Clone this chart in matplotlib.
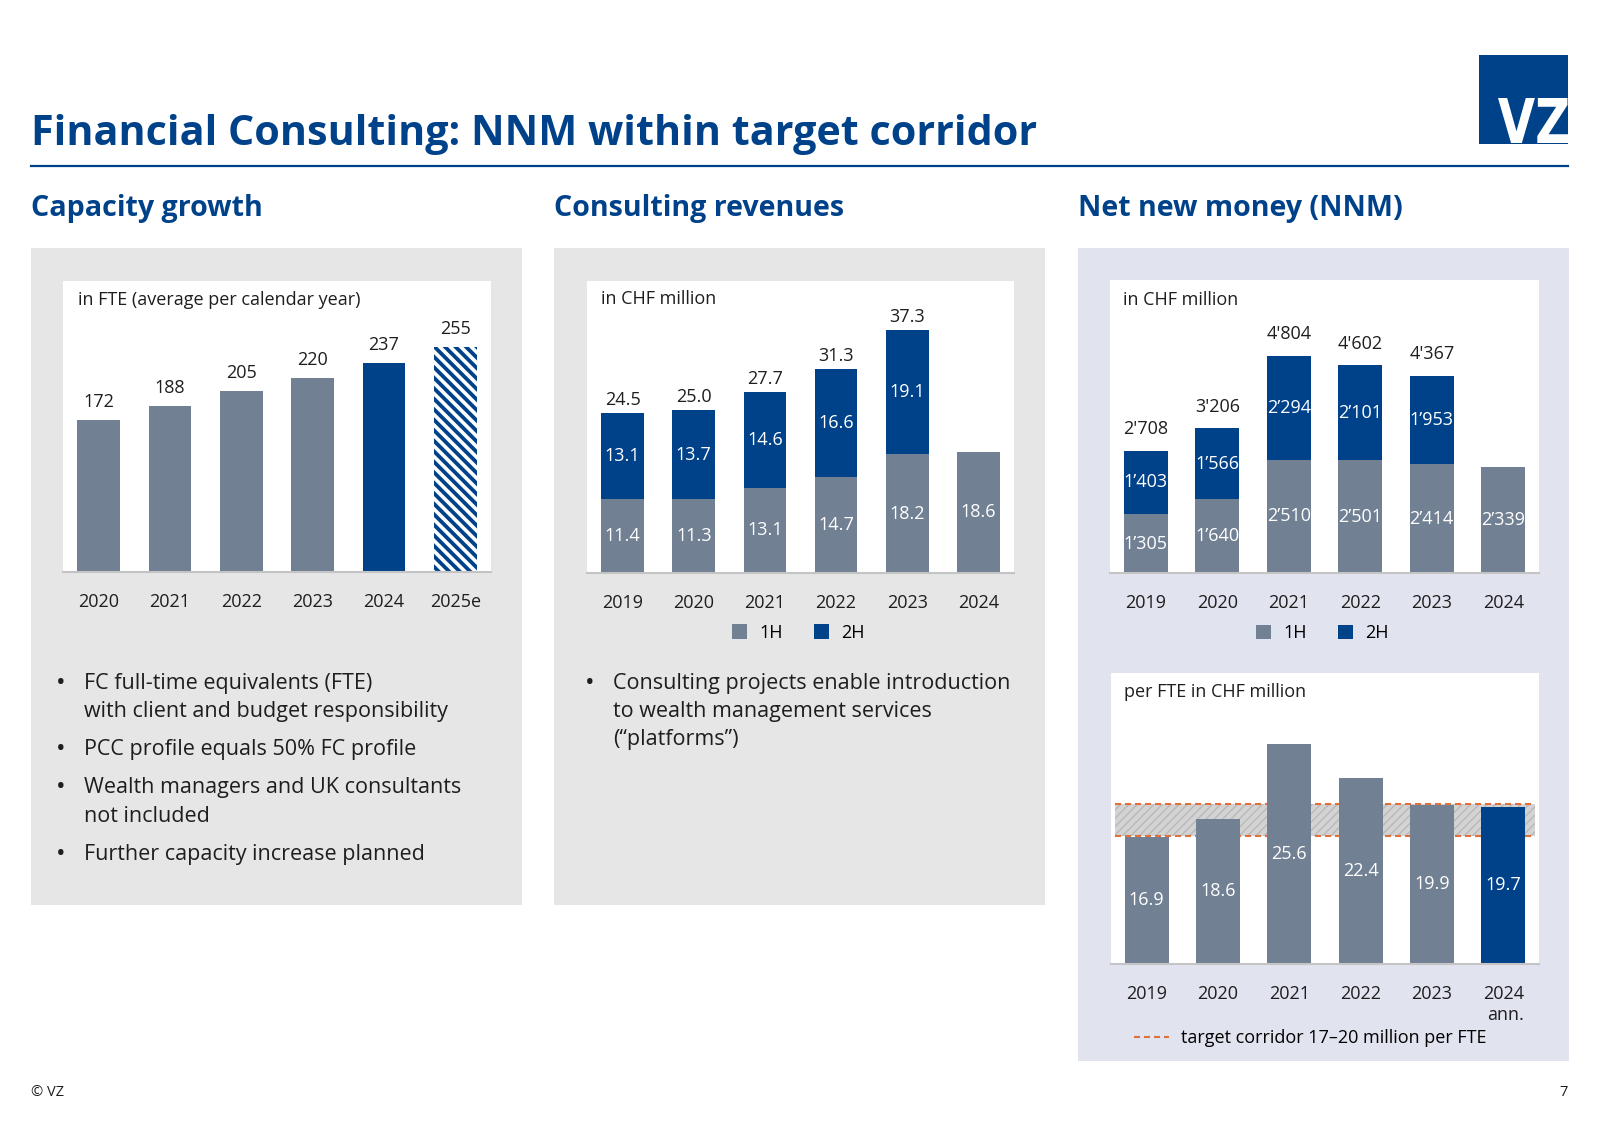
import numpy as np
import matplotlib
matplotlib.use("Agg")
import matplotlib.pyplot as plt
import matplotlib.transforms as mtransforms
from matplotlib.patches import Rectangle, PathPatch
from matplotlib.lines import Line2D
from matplotlib.textpath import TextPath
from matplotlib.font_manager import FontProperties

plt.rcParams['font.family'] = ['Open Sans', 'DejaVu Sans']

# ---- data ----
fte_years = ['2020', '2021', '2022', '2023', '2024', '2025e']
fte = [172, 188, 205, 220, 237, 255]

rev_years = ['2019', '2020', '2021', '2022', '2023', '2024']
rev_1h = [11.4, 11.3, 13.1, 14.7, 18.2, 18.6]
rev_2h = [13.1, 13.7, 14.6, 16.6, 19.1]
rev_tot = [24.5, 25.0, 27.7, 31.3, 37.3]

nnm_years = ['2019', '2020', '2021', '2022', '2023', '2024']
nnm_1h = [1305, 1640, 2510, 2501, 2414, 2339]
nnm_2h = [1403, 1566, 2294, 2101, 1953]
nnm_tot = [2708, 3206, 4804, 4602, 4367]

pf_years = ['2019', '2020', '2021', '2022', '2023', '2024\nann.']
nnm_per_fte = [16.9, 18.6, 25.6, 22.4, 19.9, 19.7]
corridor = (17, 20)

bullets_fte = [["FC full-time equivalents (FTE)", "with client and budget responsibility"],
               ["PCC profile equals 50% FC profile"],
               ["Wealth managers and UK consultants", "not included"],
               ["Further capacity increase planned"]]
bullets_rev = [["Consulting projects enable introduction", "to wealth management services",
                "(\u201cplatforms\u201d)"]]

# ---- style ----
W, H = 1600, 1131
NAVY = '#00428a'
GREY = '#718093'
PANEL = '#e6e6e6'
LILAC = '#e1e3ef'
TXT = '#1e1e1e'
AXLINE = '#c4c4c4'
ORANGE = '#e0703c'

fig = plt.figure(figsize=(W / 100, H / 100), dpi=100)
r = fig.canvas.get_renderer()

def fit(t, width):
    w = t.get_window_extent(r).width
    t.set_fontsize(t.get_fontsize() * width / w)
    return t.get_fontsize()

def ftext(x, y, s, **kw):
    # figure-level text in pixel coords (y down), drawn above the axes
    return fig.text(x / W, 1 - y / H, s, **kw)

# page layer in pixel coords (y down)
page = fig.add_axes([0, 0, 1, 1])
page.set_xlim(0, W)
page.set_ylim(H, 0)
page.axis('off')

title = page.text(31, 145, 'Financial Consulting: NNM within target corridor', fontsize=30,
                  fontweight='bold', color=NAVY, va='baseline')
fit(title, 1005)
page.plot([31, 1568], [166, 166], color=NAVY, lw=1.6)

# logo
page.add_patch(Rectangle((1479, 55), 89, 89, color=NAVY, lw=0))
tp = TextPath((0, 0), 'VZ', size=10, prop=FontProperties(family='DejaVu Sans', weight='bold'))
ext = tp.get_extents()
tr = (mtransforms.Affine2D().translate(-ext.x0, -ext.y0).scale(70 / ext.width, -45 / ext.height)
      .translate(1498, 143) + page.transData)
page.add_patch(PathPatch(tp, color='white', lw=0, transform=tr))

# section headers
h1 = page.text(31, 216, 'Capacity growth', fontsize=20, fontweight='bold', color=NAVY, va='baseline')
hs = fit(h1, 232)
page.text(554, 216, 'Consulting revenues', fontsize=hs, fontweight='bold', color=NAVY, va='baseline')
page.text(1078, 216, 'Net new money (NNM)', fontsize=hs, fontweight='bold', color=NAVY, va='baseline')

# background panels
page.add_patch(Rectangle((31, 248), 491, 657, color=PANEL, lw=0))
page.add_patch(Rectangle((554, 248), 491, 657, color=PANEL, lw=0))
page.add_patch(Rectangle((1078, 248), 491, 813, color=LILAC, lw=0))

# chart captions
c1 = ftext(78, 300, 'in FTE (average per calendar year)', fontsize=13, color=TXT, va='center')
cs = fit(c1, 281)
ftext(601, 299, 'in CHF million', fontsize=cs, color=TXT, va='center')
ftext(1123, 300, 'in CHF million', fontsize=cs, color=TXT, va='center')
ftext(1124, 692, 'per FTE in CHF million', fontsize=cs, color=TXT, va='center')

# bullets
tb = page.text(0, 0, bullets_rev[0][0], fontsize=15)
bs = fit(tb, 397)
tb.remove()

def bullet_list(x_dot, x_txt, y0, paras):
    y = y0
    for para in paras:
        page.text(x_dot, y, '\u2022', fontsize=bs * 1.2, color=TXT, ha='center', va='center')
        for ln in para:
            page.text(x_txt, y, ln, fontsize=bs, color=TXT, va='center')
            y += 28
        y += 10.5

bullet_list(61, 84, 683, bullets_fte)
bullet_list(590, 613, 683, bullets_rev)

# footer
page.text(31, 1093, '\u00a9 VZ', fontsize=10.5, color=TXT, va='center')
page.text(1568, 1093, '7', fontsize=10.5, color=TXT, va='center', ha='right')


def chart_ax(x0, y0, x1, y1):
    ax = fig.add_axes([x0 / W, 1 - y1 / H, (x1 - x0) / W, (y1 - y0) / H])
    ax.set_facecolor('white')
    for s in ['top', 'right', 'left']:
        ax.spines[s].set_visible(False)
    ax.spines['bottom'].set_color(AXLINE)
    ax.spines['bottom'].set_linewidth(1.5)
    ax.set_yticks([])
    ax.tick_params(axis='x', length=0, labelsize=cs, pad=15, colors=TXT)
    ax.set_xlim(-0.5, 5.5)
    return ax


def fmt(v, q='\u2019'):
    return f'{v:,}'.replace(',', q)


x = np.arange(6)

# ---- capacity growth ----
ax1 = chart_ax(63, 281, 491, 572)
bars = ax1.bar(x, fte, width=0.6, color=[GREY] * 4 + [NAVY, NAVY])
ax1.set_ylim(0, 330)
ax1.set_xticks(x, fte_years)
for xi, v in zip(x, fte):
    ax1.annotate(str(v), (xi, v), xytext=(0, 9.5), textcoords='offset points',
                 ha='center', va='baseline', fontsize=cs, color=TXT)
# white stripes on the estimate bar
bb = bars[5].get_window_extent()
period = 10.5
for off in np.arange(-bb.height, bb.width + period, period):
    ln = Line2D([bb.x0 + off, bb.x0 + off + bb.height], [bb.y1, bb.y0], color='white', lw=2.6,
                transform=mtransforms.IdentityTransform())
    ax1.add_line(ln)
    ln.set_clip_path(bars[5])

# ---- consulting revenues ----
ax2 = chart_ax(587, 281, 1014, 573)
b1 = ax2.bar(x, rev_1h, width=0.6, color=GREY, label='1H')
b2 = ax2.bar(x[:5], rev_2h, width=0.6, bottom=rev_1h[:5], color=NAVY, label='2H')
ax2.set_ylim(0, 44.8)
ax2.set_xticks(x, rev_years)
ax2.bar_label(b1, labels=[f'{v:.1f}' for v in rev_1h], label_type='center', color='white', fontsize=cs)
ax2.bar_label(b2, labels=[f'{v:.1f}' for v in rev_2h], label_type='center', color='white', fontsize=cs)
for xi, v in zip(x, rev_tot):
    ax2.annotate(f'{v:.1f}', (xi, v), xytext=(0, 6), textcoords='offset points',
                 ha='center', va='baseline', fontsize=cs, color=TXT)
ax2.legend(loc='center', bbox_to_anchor=(0.495, -0.205), ncol=2, frameon=False, fontsize=cs,
           handlelength=0.85, handleheight=0.85, handletextpad=0.7, columnspacing=1.7)

# ---- net new money ----
ax3 = chart_ax(1110, 280, 1539, 573)
n1 = ax3.bar(x, nnm_1h, width=0.62, color=GREY, label='1H')
n2 = ax3.bar(x[:5], nnm_2h, width=0.62, bottom=nnm_1h[:5], color=NAVY, label='2H')
ax3.set_ylim(0, 6490)
ax3.set_xticks(x, nnm_years)
ax3.bar_label(n1, labels=[fmt(v) for v in nnm_1h], label_type='center', color='white', fontsize=cs)
ax3.bar_label(n2, labels=[fmt(v) for v in nnm_2h], label_type='center', color='white', fontsize=cs)
for xi, v in zip(x, nnm_tot):
    ax3.annotate(fmt(v, "'"), (xi, v), xytext=(0, 12), textcoords='offset points',
                 ha='center', va='baseline', fontsize=cs, color=TXT)
ax3.legend(loc='center', bbox_to_anchor=(0.495, -0.205), ncol=2, frameon=False, fontsize=cs,
           handlelength=0.85, handleheight=0.85, handletextpad=0.7, columnspacing=1.7)

# ---- NNM per FTE ----
ax4 = chart_ax(1111, 673, 1539, 964)
base = 5
ax4.set_ylim(base, 32.2)
ax4.axhspan(corridor[0], corridor[1], xmin=0.01, xmax=0.99, facecolor='#d3d3d3',
            edgecolor='#b9b9b9', hatch='////', lw=0, zorder=1)
for c in corridor:
    ax4.axhline(c, xmin=0.01, xmax=0.99, color=ORANGE, lw=1.5, ls=(0, (2.9, 1.9)), zorder=1.5)
p = ax4.bar(x, np.array(nnm_per_fte) - base, bottom=base, width=0.62,
            color=[GREY] * 5 + [NAVY], zorder=2)
ax4.bar_label(p, labels=[f'{v:.1f}' for v in nnm_per_fte], label_type='center', color='white',
              fontsize=cs)
ax4.set_xticks(x, pf_years)
for t in ax4.get_xticklabels():
    t.set_multialignment('right')
lh = Line2D([], [], color=ORANGE, lw=1.5, ls=(0, (2.9, 1.9)))
ax4.legend([lh], ['target corridor 17\u201320 million per FTE'], loc='center left',
           bbox_to_anchor=((1134 - 1111) / 428, -0.254), frameon=False, fontsize=cs,
           borderaxespad=0, borderpad=0, handlelength=1.95, handletextpad=0.65)

fig.savefig('out.png', dpi=100)
